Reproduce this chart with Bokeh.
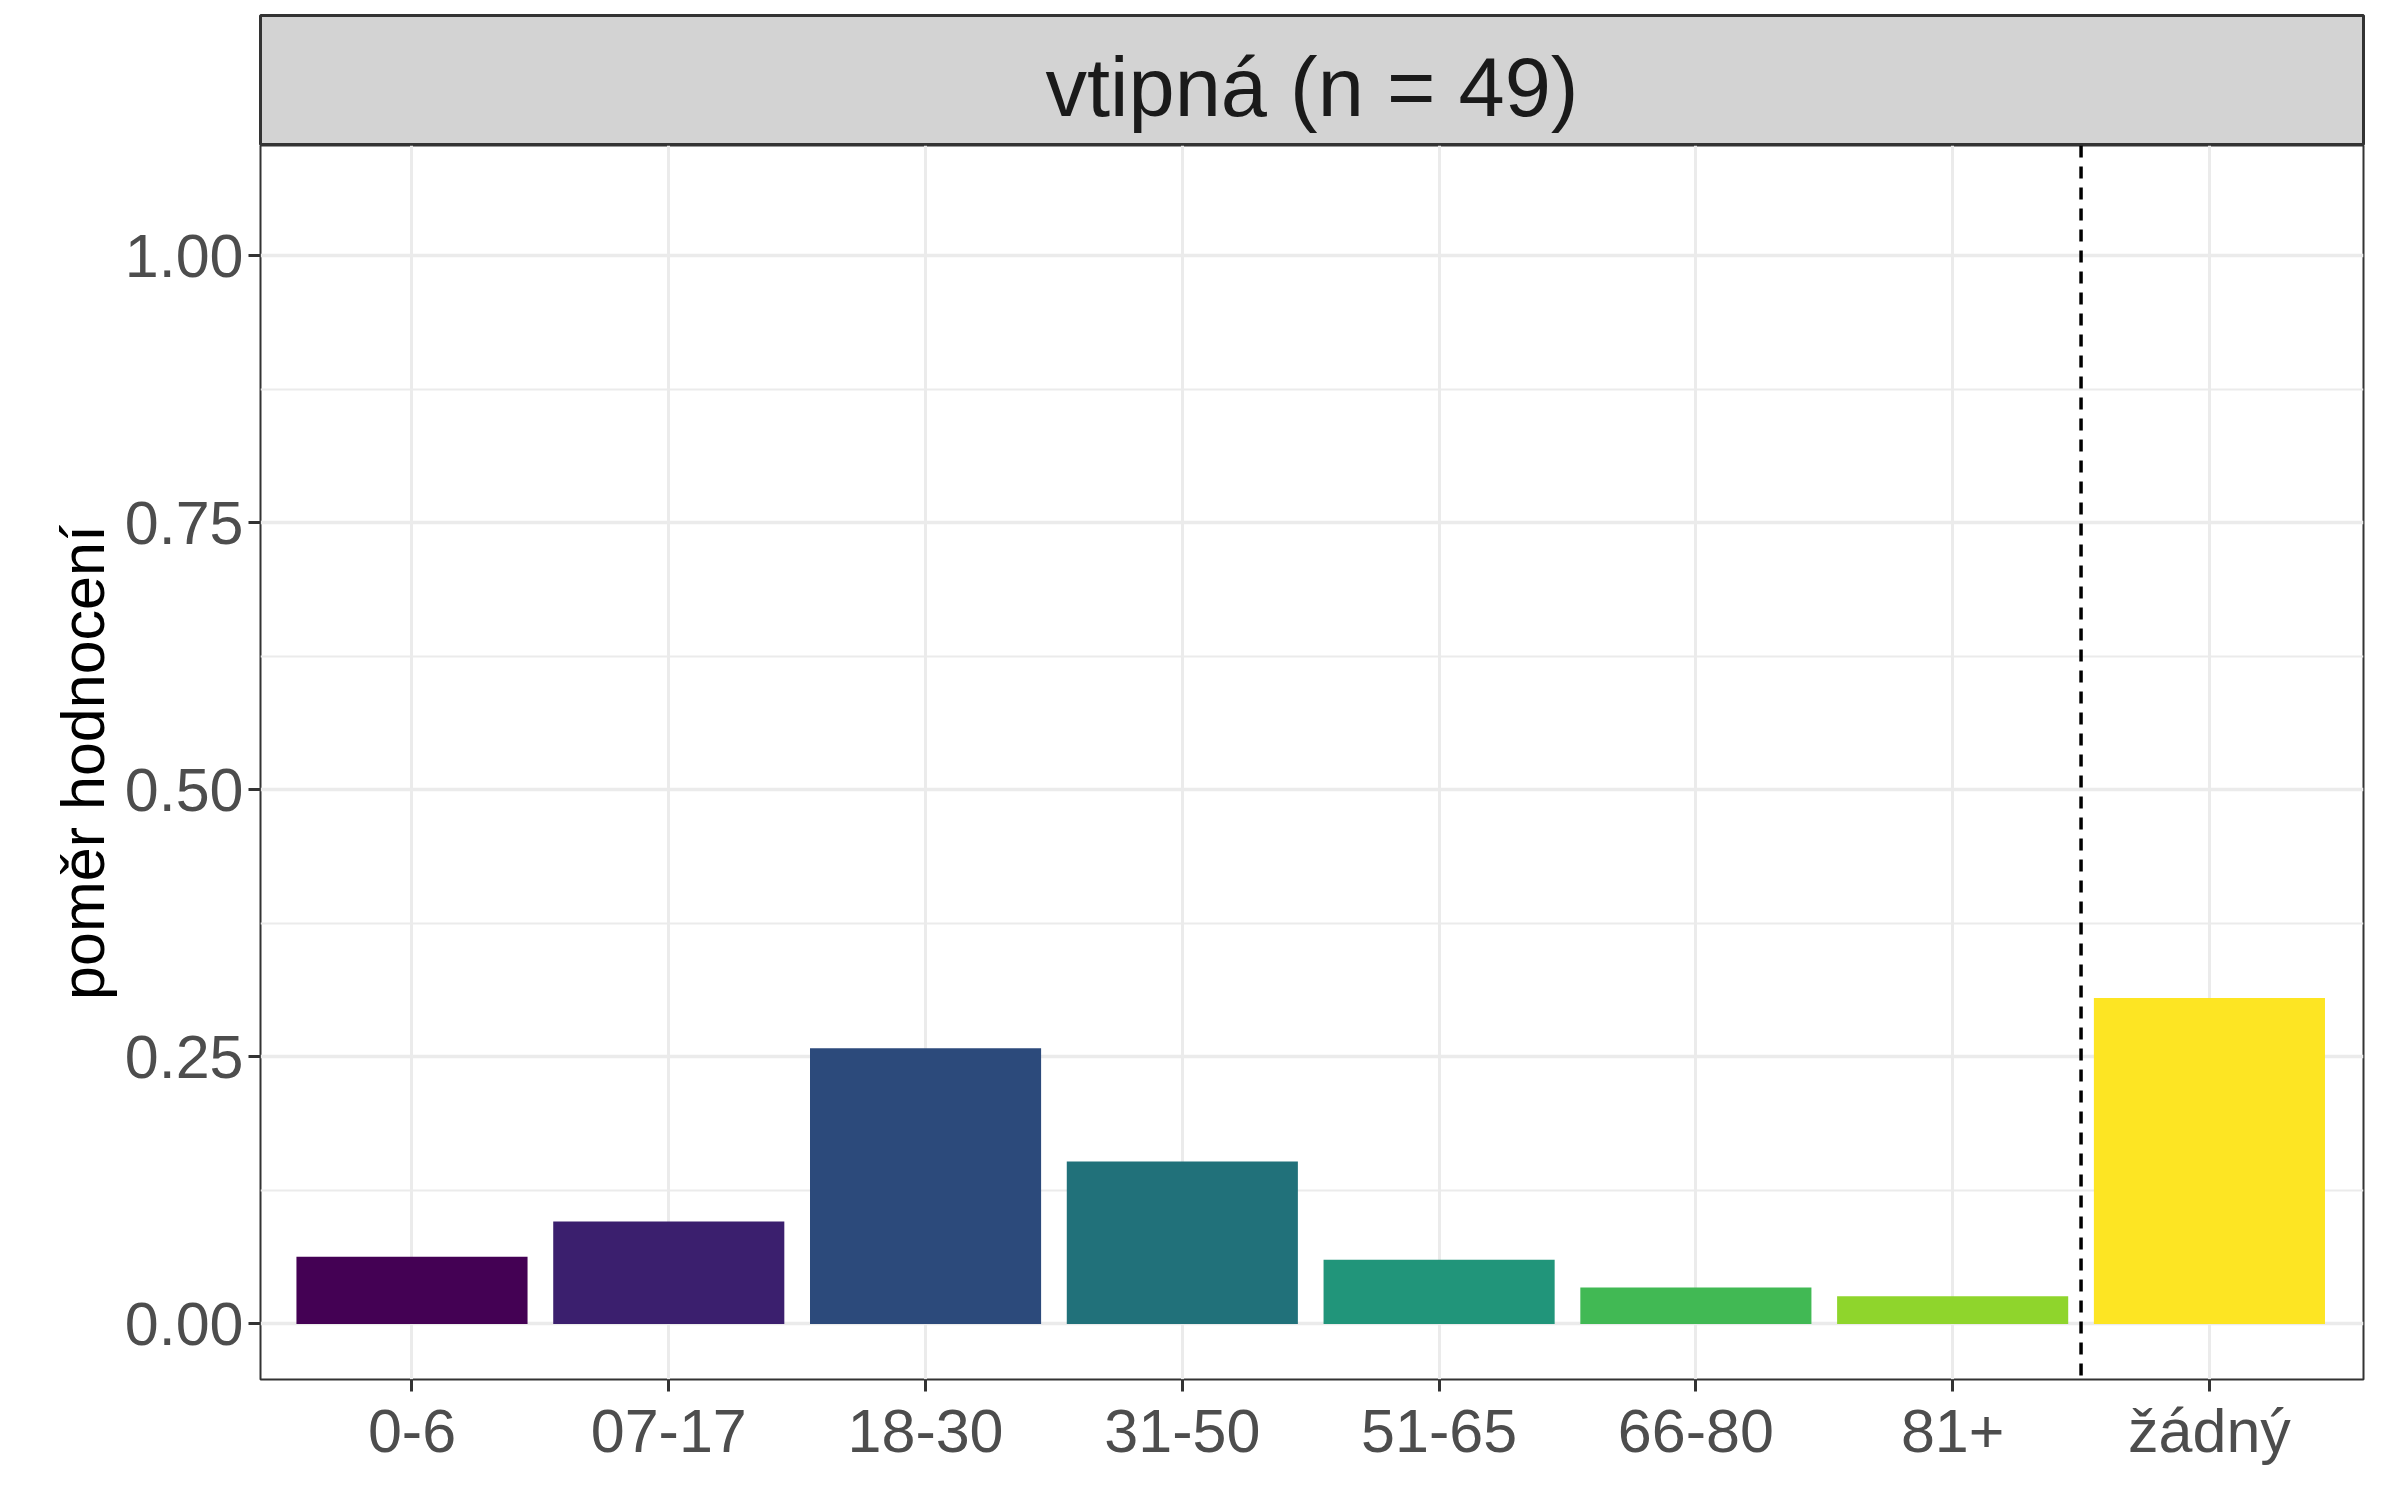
from bokeh.embed import file_html
from bokeh.resources import INLINE
from bokeh.layouts import column
from bokeh.models import ColumnDataSource, Range1d, FixedTicker, Span
from bokeh.plotting import figure
from bokeh.core.properties import value

categories = ["0-6", "07-17", "18-30", "31-50", "51-65", "66-80", "81+", "žádný"]
shares = [0.063, 0.096, 0.258, 0.152, 0.060, 0.034, 0.026, 0.305]
colors = ["#440154", "#3b1f6e", "#2c4a7b", "#21717a", "#21957a", "#41b954", "#8fd52c", "#fde523"]
panel_title = "vtipná (n = 49)"

FONT = "Liberation Sans"
LEFT = 260
FRAME_W = 2103

positions = list(range(1, len(categories) + 1))
src = ColumnDataSource(data=dict(x=positions, top=shares, color=colors))

# facet strip
strip = figure(width=LEFT + FRAME_W + 3, height=145, output_backend="svg", toolbar_location=None,
               x_range=Range1d(0, 1), y_range=Range1d(0, 1), min_border_left=LEFT,
               min_border_right=3, min_border_top=15, min_border_bottom=0)
strip.axis.visible = False
strip.grid.visible = False
strip.background_fill_color = "#d3d3d3"
strip.outline_line_color = "#333333"
strip.outline_line_width = 3
strip.text(x=[0.5], y=[0.45], text=[panel_title], text_align="center", text_baseline="middle",
           text_font=value(FONT), text_font_size="83px", text_color="#1a1a1a")

p = figure(width=LEFT + FRAME_W + 3, height=1332, output_backend="svg", toolbar_location=None,
           x_range=Range1d(0.41, 8.6), y_range=Range1d(-0.052, 1.103),
           min_border_left=LEFT, min_border_right=3, min_border_top=0, min_border_bottom=98)
p.vbar(x="x", top="top", bottom=0, width=0.9, fill_color="color", line_color=None, source=src)
p.add_layout(Span(location=7.5, dimension="height", line_color="black", line_width=3.5, line_dash="12 9"))

p.outline_line_color = "#333333"
p.outline_line_width = 2
p.xaxis.ticker = FixedTicker(ticks=positions)
p.xaxis.major_label_overrides = {i: c for i, c in zip(positions, categories)}
p.yaxis.ticker = FixedTicker(ticks=[0, 0.25, 0.5, 0.75, 1.0], minor_ticks=[0.125, 0.375, 0.625, 0.875])
p.yaxis.major_label_overrides = {0: "0.00", 0.25: "0.25", 0.5: "0.50", 0.75: "0.75", 1.0: "1.00"}
p.yaxis.axis_label = "poměr hodnocení"
for ax in (p.xaxis, p.yaxis):
    ax.major_label_text_font = FONT
    ax.major_label_text_font_size = "61px"
    ax.major_label_text_color = "#4d4d4d"
    ax.axis_line_color = None
    ax.major_tick_line_color = "#333333"
    ax.major_tick_line_width = 3
    ax.major_tick_out = 12
    ax.major_tick_in = 0
    ax.minor_tick_line_color = None
p.yaxis.axis_label_text_font = FONT
p.yaxis.axis_label_text_font_size = "61px"
p.yaxis.axis_label_text_font_style = "normal"
p.yaxis.axis_label_text_color = "black"
p.xgrid.grid_line_color = "#ebebeb"
p.xgrid.grid_line_width = 3
p.ygrid.grid_line_color = "#ebebeb"
p.ygrid.grid_line_width = 3.5
p.ygrid.minor_grid_line_color = "#ebebeb"
p.ygrid.minor_grid_line_width = 2

layout = column(strip, p, spacing=0)
open("out.html", "w").write(file_html(layout, INLINE))
